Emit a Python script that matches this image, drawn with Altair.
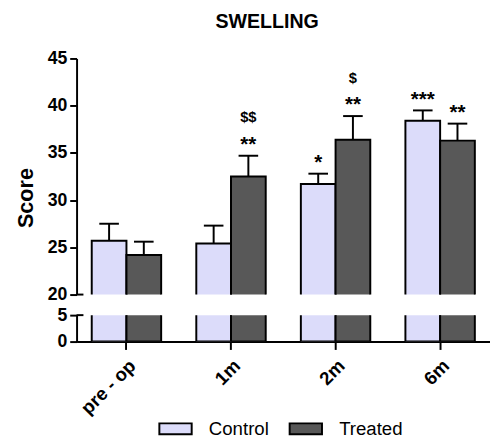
import altair as alt
import pandas as pd

categories = ["pre - op", "1m", "2m", "6m"]
groups = ["Control", "Treated"]
control_mean = [25.7, 25.4, 31.7, 38.4]
control_err = [1.8, 1.9, 1.1, 1.1]
treated_mean = [24.2, 32.5, 36.4, 36.3]
treated_err = [1.4, 2.2, 2.5, 1.8]
control_stars = ["", "", "*", "***"]
treated_stars = ["", "**", "**", "**"]
control_dollar = ["", "", "", ""]
treated_dollar = ["", "$$", "$", ""]

rows = []
for i, c in enumerate(categories):
    rows.append(dict(cat=c, group="Control", mean=control_mean[i],
                     top=control_mean[i] + control_err[i],
                     stars=control_stars[i], dollar=control_dollar[i]))
    rows.append(dict(cat=c, group="Treated", mean=treated_mean[i],
                     top=treated_mean[i] + treated_err[i],
                     stars=treated_stars[i], dollar=treated_dollar[i]))
df = pd.DataFrame(rows)

FONT = "Liberation Sans"
W = 422
H_UP = 241

xscale = alt.Scale(domain=categories, paddingInner=0.336, paddingOuter=0.145)
offscale = alt.Scale(domain=groups, paddingInner=0, paddingOuter=0)
color = alt.Color("group:N", scale=alt.Scale(domain=groups, range=["#dcdcfa", "#585858"]),
                  legend=alt.Legend(title=None, orient="none", legendX=89, legendY=366,
                                    direction="horizontal",
                                    symbolType="M-1.5,-0.5H1.5V0.5H-1.5Z", symbolSize=484,
                                    symbolStrokeColor="black", symbolStrokeWidth=2,
                                    symbolOpacity=1,
                                    labelFontSize=19, labelFont=FONT, labelColor="black",
                                    labelOffset=22, columnPadding=16))

base = alt.Chart(df)

def bars(domain, yaxis, xaxis):
    return base.mark_bar(stroke="black", strokeWidth=2, clip=True, opacity=1).encode(
        x=alt.X("cat:N", scale=xscale, axis=xaxis, sort=categories, title=None),
        xOffset=alt.XOffset("group:N", scale=offscale, sort=groups),
        y=alt.Y("mean:Q", scale=alt.Scale(domain=domain, nice=False, zero=False), axis=yaxis),
        y2=alt.Y2(datum=0),
        color=color,
    )

yaxis_up = alt.Axis(values=[20, 25, 30, 35, 40, 45], title="Score", titleFont=FONT,
                    titleFontSize=22, titleFontWeight="bold", titleColor="black",
                    titleY=142, titlePadding=10,
                    labelFont=FONT, labelFontSize=18, labelFontWeight="bold", labelColor="black",
                    domainColor="black", domainWidth=2, tickColor="black", tickWidth=2,
                    tickSize=7, labelPadding=3, grid=False)

up_bars = bars([20, 45], yaxis_up, None)
err_rule = base.mark_rule(color="black", strokeWidth=2, clip=True).encode(
    x=alt.X("cat:N", scale=xscale, sort=categories),
    xOffset=alt.XOffset("group:N", scale=offscale, sort=groups),
    y=alt.Y("mean:Q"), y2="top:Q")
err_cap = base.mark_tick(color="black", thickness=2, size=20, orient="horizontal", opacity=1).encode(
    x=alt.X("cat:N", scale=xscale, sort=categories),
    xOffset=alt.XOffset("group:N", scale=offscale, sort=groups),
    y=alt.Y("top:Q"))
star_text = base.mark_text(font=FONT, fontSize=21, fontWeight="bold", color="black",
                           baseline="alphabetic", dy=-5).encode(
    x=alt.X("cat:N", scale=xscale, sort=categories),
    xOffset=alt.XOffset("group:N", scale=offscale, sort=groups),
    y=alt.Y("top:Q"), text="stars:N")
dollar_text = base.mark_text(font=FONT, fontSize=15, fontWeight="bold", color="black",
                             baseline="alphabetic", dy=-34).encode(
    x=alt.X("cat:N", scale=xscale, sort=categories),
    xOffset=alt.XOffset("group:N", scale=offscale, sort=groups),
    y=alt.Y("top:Q"), text="dollar:N")
brk_up = alt.Chart(pd.DataFrame({"v": [20]})).mark_rule(color="black", strokeWidth=2).encode(
    x=alt.value(0), x2=alt.value(7), y=alt.Y("v:Q"))

upper = alt.layer(up_bars, err_rule, err_cap, star_text, dollar_text, brk_up).properties(
    width=W, height=H_UP)

yaxis_low = alt.Axis(values=[0, 5], title=None,
                     labelFont=FONT, labelFontSize=18, labelFontWeight="bold", labelColor="black",
                     domainColor="black", domainWidth=2, tickColor="black", tickWidth=2,
                     tickSize=7, labelPadding=3, grid=False)
xaxis_low = alt.Axis(labelAngle=-45, labelFont=FONT, labelFontSize=19, labelFontWeight="bold",
                     labelColor="black", domainColor="black", domainWidth=2, tickColor="black",
                     tickWidth=2, tickSize=8, labelPadding=7)
low_bars = bars([0, 5], yaxis_low, xaxis_low)
brk_low = alt.Chart(pd.DataFrame({"v": [5]})).mark_rule(color="black", strokeWidth=2).encode(
    x=alt.value(0), x2=alt.value(7), y=alt.Y("v:Q"))
lower = alt.layer(low_bars, brk_low).properties(width=W, height=27)

chart = alt.vconcat(upper, lower, spacing=21, bounds="flush").properties(
    title=alt.Title("SWELLING", font=FONT, fontSize=20, fontWeight="bold", color="black",
                    anchor="middle", offset=18, dx=15),
    padding={"left": 6, "top": 0, "right": 0, "bottom": 0},
).configure_view(stroke=None)

chart.save("out.html", embed_options={"renderer": "svg", "actions": False})
